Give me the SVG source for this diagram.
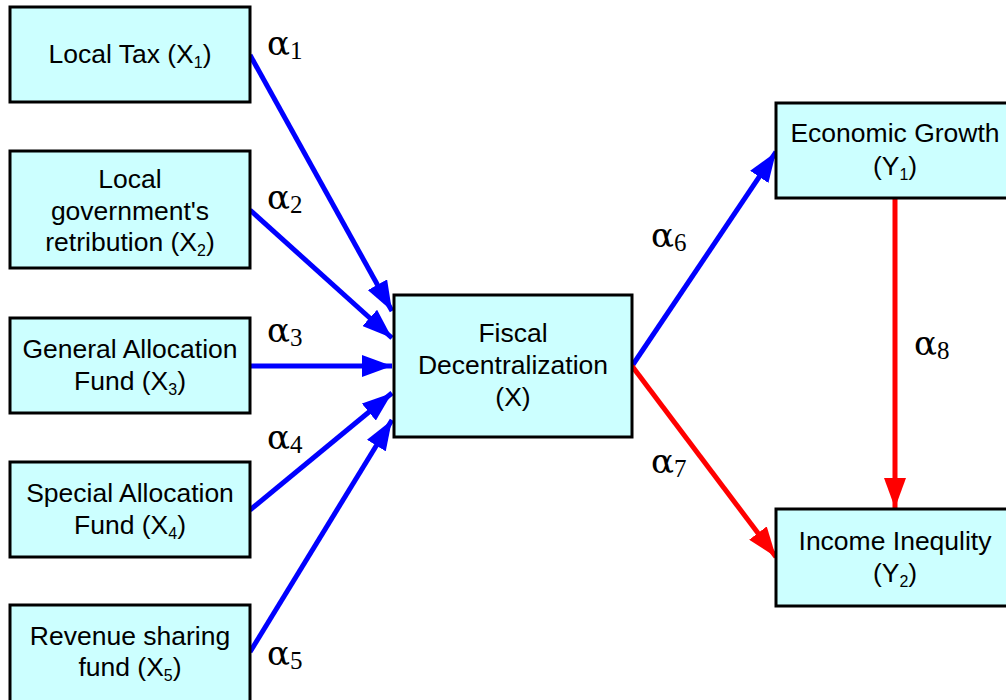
<svg xmlns="http://www.w3.org/2000/svg" width="1006" height="700" viewBox="0 0 1006 700">
<style>
.box{fill:#ccffff;stroke:#000;stroke-width:3}
.t{font-family:"Liberation Sans",Arial,sans-serif;font-size:26.5px;fill:#000;text-anchor:middle}
.s{font-size:16px}
.a{font-family:"Liberation Serif","Times New Roman",serif;font-size:38px;fill:#000}
.g{font-family:"DejaVu Serif","Liberation Serif",serif;font-size:34px}
.sub{font-family:"Liberation Serif","Times New Roman",serif;font-size:25px}
.b{stroke:#0000ff;stroke-width:5;fill:none;marker-end:url(#ab)}
.r{stroke:#ff0000;stroke-width:5;fill:none;marker-end:url(#ar)}
</style>
<defs>
<marker id="ab" markerUnits="userSpaceOnUse" markerWidth="30" markerHeight="22" refX="30" refY="11" orient="auto">
<path d="M0,0 L30,11 L0,22 Z" fill="#0000ff"/>
</marker>
<marker id="ar" markerUnits="userSpaceOnUse" markerWidth="30" markerHeight="22" refX="30" refY="11" orient="auto">
<path d="M0,0 L30,11 L0,22 Z" fill="#ff0000"/>
</marker>
</defs>
<rect width="1006" height="700" fill="#fff"/>
<g id="connectors">
<line class="b" x1="250" y1="55" x2="392" y2="311"/>
<line class="b" x1="250" y1="210" x2="392" y2="338"/>
<line class="b" x1="250" y1="366" x2="392" y2="366"/>
<line class="b" x1="250" y1="510" x2="392" y2="393"/>
<line class="b" x1="250" y1="652" x2="392" y2="420"/>
<line class="b" x1="632" y1="366" x2="776" y2="152"/>
<line class="r" x1="632" y1="366" x2="776" y2="557"/>
<line class="r" x1="895" y1="198" x2="895" y2="508"/>
</g>
<g id="labels">
<text class="a" x="267" y="55"><tspan class="g">α</tspan><tspan class="sub" dy="4">1</tspan></text>
<text class="a" x="267" y="209"><tspan class="g">α</tspan><tspan class="sub" dy="4">2</tspan></text>
<text class="a" x="267" y="342"><tspan class="g">α</tspan><tspan class="sub" dy="4">3</tspan></text>
<text class="a" x="267" y="449"><tspan class="g">α</tspan><tspan class="sub" dy="4">4</tspan></text>
<text class="a" x="267" y="665"><tspan class="g">α</tspan><tspan class="sub" dy="4">5</tspan></text>
<text class="a" x="651" y="247"><tspan class="g">α</tspan><tspan class="sub" dy="4">6</tspan></text>
<text class="a" x="651" y="473"><tspan class="g">α</tspan><tspan class="sub" dy="4">7</tspan></text>
<text class="a" x="914" y="355"><tspan class="g">α</tspan><tspan class="sub" dy="4">8</tspan></text>
</g>
<g id="x1">
<rect class="box" x="10" y="7" width="240" height="95"/>
<text class="t" x="130" y="63">Local Tax (X<tspan class="s" dy="5">1</tspan><tspan dy="-5">)</tspan></text>
</g>
<g id="x2">
<rect class="box" x="10" y="151" width="240" height="117"/>
<text class="t" x="130" y="188">Local</text>
<text class="t" x="130" y="220">government's</text>
<text class="t" x="130" y="251">retribution (X<tspan class="s" dy="5">2</tspan><tspan dy="-5">)</tspan></text>
</g>
<g id="x3">
<rect class="box" x="10" y="318" width="240" height="95"/>
<text class="t" x="130" y="358">General Allocation</text>
<text class="t" x="130" y="390">Fund (X<tspan class="s" dy="5">3</tspan><tspan dy="-5">)</tspan></text>
</g>
<g id="x4">
<rect class="box" x="10" y="462" width="240" height="95"/>
<text class="t" x="130" y="502">Special Allocation</text>
<text class="t" x="130" y="534">Fund (X<tspan class="s" dy="5">4</tspan><tspan dy="-5">)</tspan></text>
</g>
<g id="x5">
<rect class="box" x="10" y="605" width="240" height="100"/>
<text class="t" x="130" y="645">Revenue sharing</text>
<text class="t" x="130" y="676">fund (X<tspan class="s" dy="5">5</tspan><tspan dy="-5">)</tspan></text>
</g>
<g id="x">
<rect class="box" x="394" y="295" width="238" height="142"/>
<text class="t" x="513" y="342">Fiscal</text>
<text class="t" x="513" y="374">Decentralization</text>
<text class="t" x="513" y="406">(X)</text>
</g>
<g id="y1">
<rect class="box" x="776" y="103" width="240" height="95"/>
<text class="t" x="895" y="142">Economic Growth</text>
<text class="t" x="895" y="175">(Y<tspan class="s" dy="5">1</tspan><tspan dy="-5">)</tspan></text>
</g>
<g id="y2">
<rect class="box" x="776" y="509" width="240" height="97"/>
<text class="t" x="895" y="550">Income Inequlity</text>
<text class="t" x="895" y="582">(Y<tspan class="s" dy="5">2</tspan><tspan dy="-5">)</tspan></text>
</g>
</svg>
